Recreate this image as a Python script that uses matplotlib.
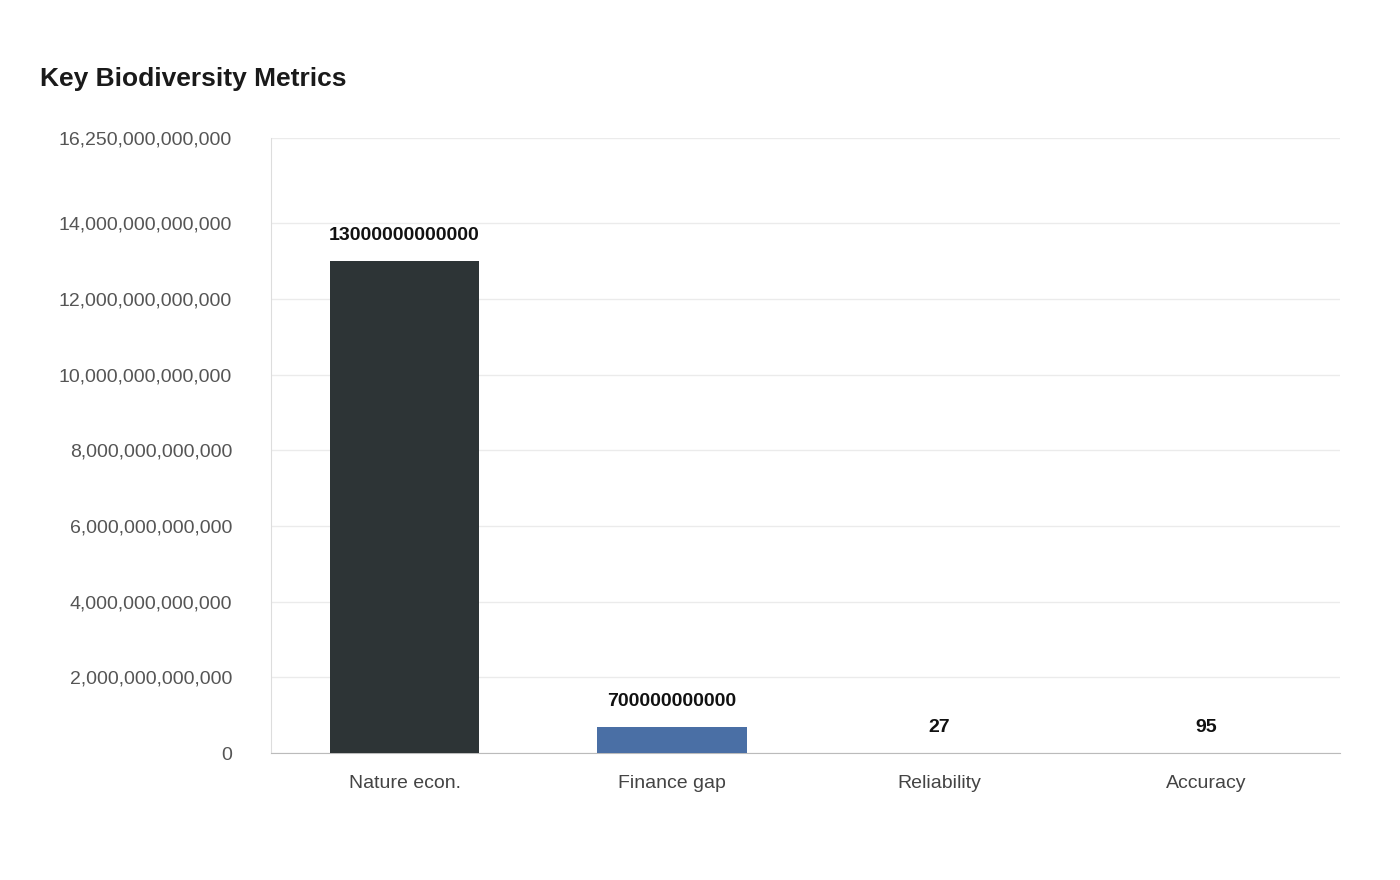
import matplotlib
matplotlib.use("Agg")
import matplotlib.pyplot as plt
from matplotlib.ticker import FuncFormatter

categories = ["Nature econ.", "Finance gap", "Reliability", "Accuracy"]
values = [13000000000000, 700000000000, 27, 95]
labels = ["13000000000000", "700000000000", "27", "95"]
colors = ["#2d3436", "#4a6fa5", "#7f8c8d", "#95a5a6"]
yticks = [0, 2e12, 4e12, 6e12, 8e12, 10e12, 12e12, 14e12, 16.25e12]

plt.rcParams['font.family'] = ['Liberation Sans', 'DejaVu Sans']
fig = plt.figure(figsize=(14, 8.8), dpi=100)
ax = fig.add_axes([271/1400, 1-753/880, 1069/1400, 615/880])
x = range(len(categories))
ax.bar(x, values, width=0.56, color=colors, zorder=3)
for i, (v, l) in enumerate(zip(values, labels)):
    ax.annotate(l, (i, v), xytext=(0, 12), textcoords="offset points",
                ha="center", va="bottom", fontsize=14, fontweight="bold", color="#111111")
ax.set_xlim(-0.5, 3.5)
ax.set_ylim(0, 16.25e12)
ax.set_yticks(yticks)
ax.yaxis.set_major_formatter(FuncFormatter(lambda v, p: f"{int(round(v)):,}"))
ax.set_xticks(list(x))
ax.set_xticklabels(categories)
ax.tick_params(axis="both", length=0, labelsize=14, labelcolor="#555555")
ax.tick_params(axis="y", pad=28)
ax.tick_params(axis="x", pad=16, labelcolor="#444444")
ax.grid(axis="y", color="#ebebeb", linewidth=1, zorder=0)
for s in ["top", "right"]:
    ax.spines[s].set_visible(False)
ax.spines["left"].set_color("#dddddd")
ax.spines["bottom"].set_color("#bbbbbb")
fig.text(40/1400, 1-79/880, "Key Biodiversity Metrics", fontsize=19, fontweight="bold",
         color="#1a1a1a", va="center", ha="left")
fig.savefig("out.png", dpi=100)
